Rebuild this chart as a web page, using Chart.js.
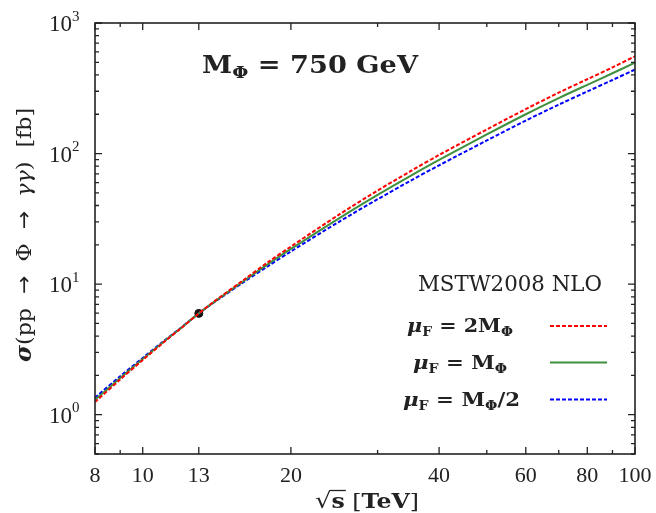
<!DOCTYPE html>
<html>
<head>
<meta charset="utf-8">
<script src="https://cdn.jsdelivr.net/npm/chart.js@4.4.0/dist/chart.umd.min.js"></script>
<style>
html, body { margin: 0; padding: 0; background: #fff; }
#wrap { width: 656px; height: 513px; }
</style>
</head>
<body>
<div id="wrap"><canvas id="sigmagraf"></canvas></div>
<script>
// sqrt(s) in TeV
const energies = [8, 9, 10, 11, 12, 13, 14, 16, 18, 20, 25, 30, 35, 40, 50, 60, 70, 80, 90, 100];
// sigma(pp -> Phi -> gamma gamma) in fb
const sigmaTwoM = [1.25, 1.86, 2.62, 3.55, 4.64, 5.97, 7.41, 10.7, 14.8, 19.4, 33.9, 52.1, 73.3, 97.6, 153, 219, 293, 371, 457, 556];
const sigmaM = [1.30, 1.91, 2.67, 3.59, 4.66, 5.97, 7.35, 10.5, 14.3, 18.6, 31.8, 48.3, 67.6, 89.5, 140, 200, 266, 336, 412, 496];
const sigmaHalfM = [1.35, 1.97, 2.72, 3.63, 4.68, 5.97, 7.30, 10.3, 13.8, 17.8, 29.9, 44.7, 61.9, 81.3, 126, 179, 237, 299, 366, 440];
// 13 TeV point
const dotX = [13];
const dotY = [5.97];

const xTicks = [8, 9, 10, 13, 20, 30, 40, 50, 60, 70, 80, 90, 100];
const xLabels = [8, 10, 13, 20, 40, 60, 80, 100];
const yMajor = [1, 10, 100, 1000];
const yExponents = ['0', '1', '2', '3'];

const LIB = '"Liberation Serif", serif';
const DJ = '"DejaVu Serif", serif';
const DJS = '"DejaVu Sans", sans-serif';

function pts(xs, ys) {
  return xs.map((x, i) => ({ x: x, y: ys[i] }));
}

// draws text pieces in a row starting at x; if width is given the row is stretched to it
function drawParts(ctx, parts, x, y, width) {
  let w = 0;
  parts.forEach(p => {
    ctx.font = p.f;
    p.w = ctx.measureText(p.t).width;
    w += p.w;
  });
  const sx = width ? width / w : 1;
  ctx.save();
  ctx.translate(x, y);
  ctx.scale(sx, 1);
  ctx.textAlign = 'left';
  ctx.textBaseline = 'alphabetic';
  let cx = 0;
  parts.forEach(p => {
    ctx.font = p.f;
    ctx.fillText(p.t, cx, p.dy || 0);
    p.x0 = x + cx * sx;
    p.x1 = x + (cx + p.w) * sx;
    cx += p.w;
  });
  ctx.restore();
  return parts;
}

const decor = {
  id: 'decor',
  afterDraw(chart) {
    const ctx = chart.ctx;
    const a = chart.chartArea;
    const xs = chart.scales.x;
    const ys = chart.scales.y;
    ctx.save();
    ctx.fillStyle = '#222';
    ctx.strokeStyle = '#222';

    // ticks, pointing inward on all four sides
    ctx.lineWidth = 1.3;
    ctx.beginPath();
    xTicks.forEach(v => {
      const px = xs.getPixelForValue(v);
      const len = xLabels.includes(v) ? 7 : 4;
      ctx.moveTo(px, a.bottom); ctx.lineTo(px, a.bottom - len);
      ctx.moveTo(px, a.top); ctx.lineTo(px, a.top + len);
    });
    [0.1, 1, 10, 100].forEach(dec => {
      for (let k = 1; k <= 9; k++) {
        const v = k * dec;
        if (v < 0.5 || v > 1000) continue;
        const py = ys.getPixelForValue(v);
        const len = k === 1 ? 7 : 4;
        ctx.moveTo(a.left, py); ctx.lineTo(a.left + len, py);
        ctx.moveTo(a.right, py); ctx.lineTo(a.right - len, py);
      }
    });
    const pyTop = ys.getPixelForValue(1000);
    ctx.moveTo(a.left, pyTop); ctx.lineTo(a.left + 7, pyTop);
    ctx.moveTo(a.right, pyTop); ctx.lineTo(a.right - 7, pyTop);
    ctx.stroke();

    // frame
    ctx.lineWidth = 1.6;
    ctx.strokeRect(a.left, a.top, a.right - a.left, a.bottom - a.top);

    // x tick labels
    ctx.font = '22px ' + LIB;
    ctx.textAlign = 'center';
    xLabels.forEach(v => {
      ctx.fillText(String(v), xs.getPixelForValue(v), 482);
    });
    // y tick labels
    yMajor.forEach((v, i) => {
      const py = ys.getPixelForValue(v);
      drawParts(ctx, [
        { t: '10', f: '23px ' + LIB },
        { t: yExponents[i], f: '15px ' + LIB, dy: -10.5 }
      ], 49, py + 8);
    });

    // x title
    const xt = drawParts(ctx, [
      { t: '√', f: '22px ' + DJS },
      { t: 's', f: 'bold 20px ' + DJ },
      { t: ' [', f: '20px ' + DJ },
      { t: 'TeV', f: 'bold 20px ' + DJ },
      { t: ']', f: '20px ' + DJ }
    ], 315, 508, 104);
    ctx.lineWidth = 1.3;
    ctx.beginPath();
    ctx.moveTo(xt[1].x0 - 1, 490.5);
    ctx.lineTo(xt[1].x1 + 1, 490.5);
    ctx.stroke();

    // y title
    ctx.save();
    ctx.translate(31, 362);
    ctx.rotate(-Math.PI / 2);
    drawParts(ctx, [
      { t: 'σ', f: 'italic bold 22px ' + DJ },
      { t: '(pp', f: '21px ' + DJ },
      { t: '  →  ', f: '21px ' + DJS },
      { t: 'Φ', f: '21px ' + DJ },
      { t: '  →  ', f: '21px ' + DJS },
      { t: 'γγ', f: 'italic 21px ' + DJ },
      { t: ')', f: '21px ' + DJ },
      { t: '  [fb]', f: '21px ' + DJ }
    ], 0, 0, 254);
    ctx.restore();

    // mass label
    drawParts(ctx, [
      { t: 'M', f: 'bold 25px ' + DJ },
      { t: 'Φ', f: 'bold 17px ' + DJ, dy: 5 },
      { t: ' = 750 GeV', f: 'bold 25px ' + DJ }
    ], 202, 73, 216);

    // PDF label
    drawParts(ctx, [{ t: 'MSTW2008 NLO', f: '23px ' + DJ }], 418, 291, 184);

    // legend rows
    const B = 'bold 18px ' + DJ;
    const S = 'bold 12px ' + DJ;
    const rows = [
      [{ t: 'μ', f: 'italic ' + B }, { t: 'F', f: S, dy: 4 }, { t: ' = 2M', f: B }, { t: 'Φ', f: S, dy: 4 }],
      [{ t: 'μ', f: 'italic ' + B }, { t: 'F', f: S, dy: 4 }, { t: ' = M', f: B }, { t: 'Φ', f: S, dy: 4 }],
      [{ t: 'μ', f: 'italic ' + B }, { t: 'F', f: S, dy: 4 }, { t: ' = M', f: B }, { t: 'Φ', f: S, dy: 4 }, { t: '/2', f: B }]
    ];
    const rowX = [407, 413, 403];
    const rowW = [106, 94, 117];
    const rowY = [326, 362.5, 399.5];
    rows.forEach((parts, i) => {
      drawParts(ctx, parts, rowX[i], rowY[i] + 6, rowW[i]);
      const ds = chart.data.datasets[i];
      ctx.save();
      ctx.strokeStyle = ds.borderColor;
      ctx.lineWidth = ds.borderWidth;
      ctx.setLineDash(ds.borderDash || []);
      ctx.beginPath();
      ctx.moveTo(550, rowY[i]);
      ctx.lineTo(607, rowY[i]);
      ctx.stroke();
      ctx.restore();
    });

    ctx.restore();
  }
};

new Chart('sigmagraf', {
  type: 'line',
  data: {
    datasets: [{
      label: 'mu_F = 2 M',
      data: pts(energies, sigmaTwoM),
      borderColor: '#ff0000',
      borderWidth: 2,
      borderDash: [4, 2],
      pointRadius: 0,
      tension: 0.3
    }, {
      label: 'mu_F = M',
      data: pts(energies, sigmaM),
      borderColor: '#3f8f3f',
      borderWidth: 2,
      pointRadius: 0,
      tension: 0.3
    }, {
      label: 'mu_F = M/2',
      data: pts(energies, sigmaHalfM),
      borderColor: '#0000ff',
      borderWidth: 2,
      borderDash: [4, 2],
      pointRadius: 0,
      tension: 0.3
    }, {
      type: 'scatter',
      label: '13 TeV',
      data: pts(dotX, dotY),
      backgroundColor: '#111',
      borderColor: '#111',
      pointRadius: 4
    }]
  },
  options: {
    responsive: true,
    maintainAspectRatio: false,
    animation: false,
    layout: { padding: { left: 95, right: 21, top: 23, bottom: 59 } },
    plugins: { legend: { display: false }, tooltip: { enabled: false } },
    scales: {
      x: { type: 'logarithmic', min: 8, max: 100, display: false },
      y: { type: 'logarithmic', min: 0.5, max: 1000, display: false }
    }
  },
  plugins: [decor]
});
</script>
</body>
</html>
